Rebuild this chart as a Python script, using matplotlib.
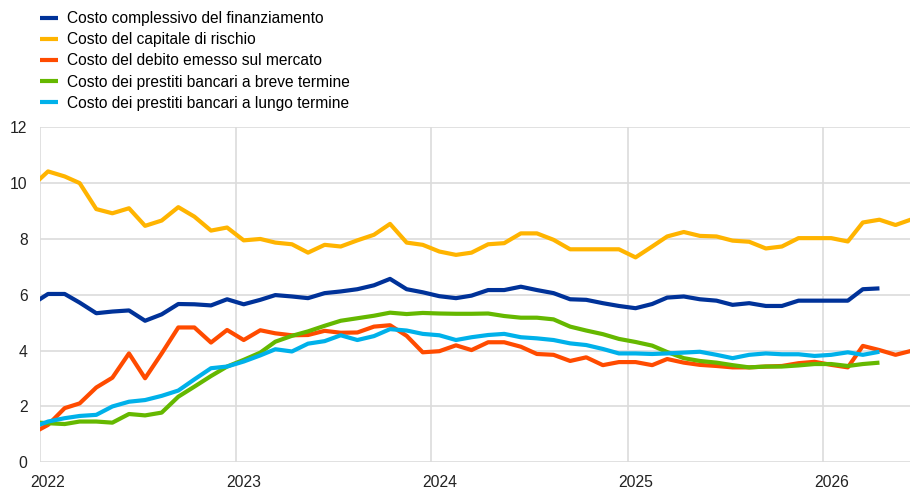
import matplotlib
matplotlib.use("Agg")
import matplotlib.pyplot as plt
import matplotlib.dates as mdates
import pandas as pd

plt.rcParams['font.family'] = ['Liberation Sans', 'DejaVu Sans']

labels = [
    "Costo complessivo del finanziamento",
    "Costo del capitale di rischio",
    "Costo del debito emesso sul mercato",
    "Costo dei prestiti bancari a breve termine",
    "Costo dei prestiti bancari a lungo termine",
]
colors = ["#003299", "#FFB400", "#FF4B00", "#65B800", "#00B1EA"]

# monthly observations, starting Dec 2021
complessivo = [5.65, 6.03, 6.03, 5.72, 5.34, 5.40, 5.44, 5.07, 5.30, 5.67, 5.66, 5.62, 5.84,
               5.66, 5.82, 5.99, 5.94, 5.88, 6.06, 6.12, 6.20, 6.34, 6.57, 6.20, 6.09,
               5.95, 5.88, 5.97, 6.17, 6.17, 6.29, 6.17, 6.06, 5.84, 5.82, 5.70, 5.60,
               5.52, 5.67, 5.90, 5.94, 5.84, 5.79, 5.64, 5.70, 5.60, 5.60, 5.79, 5.79,
               5.79, 5.79, 6.20, 6.23]
capitale = [9.87, 10.42, 10.24, 10.00, 9.07, 8.92, 9.10, 8.47, 8.66, 9.14, 8.80, 8.30, 8.41,
            7.95, 8.00, 7.87, 7.81, 7.51, 7.79, 7.73, 7.95, 8.15, 8.54, 7.87, 7.79,
            7.55, 7.43, 7.51, 7.81, 7.85, 8.20, 8.20, 7.97, 7.63, 7.63, 7.63, 7.63,
            7.34, 7.73, 8.09, 8.25, 8.11, 8.09, 7.94, 7.90, 7.66, 7.73, 8.03, 8.03,
            8.03, 7.91, 8.59, 8.69, 8.50, 8.71]
debito = [1.02, 1.34, 1.94, 2.11, 2.68, 3.03, 3.90, 3.01, 3.90, 4.83, 4.83, 4.29, 4.74,
          4.38, 4.73, 4.62, 4.55, 4.56, 4.71, 4.64, 4.65, 4.86, 4.91, 4.53, 3.94,
          3.98, 4.19, 4.02, 4.30, 4.30, 4.14, 3.88, 3.85, 3.63, 3.76, 3.48, 3.59,
          3.59, 3.48, 3.70, 3.57, 3.49, 3.45, 3.40, 3.40, 3.43, 3.45, 3.55, 3.60,
          3.49, 3.40, 4.17, 4.02, 3.85, 4.00]
breve = [1.44, 1.40, 1.37, 1.46, 1.46, 1.42, 1.73, 1.68, 1.78, 2.35, 2.71, 3.09, 3.43,
         3.67, 3.93, 4.32, 4.53, 4.69, 4.89, 5.07, 5.16, 5.25, 5.36, 5.31, 5.35,
         5.33, 5.32, 5.32, 5.33, 5.24, 5.18, 5.18, 5.12, 4.86, 4.72, 4.59, 4.42,
         4.31, 4.18, 3.95, 3.73, 3.63, 3.57, 3.48, 3.40, 3.43, 3.43, 3.47, 3.52,
         3.52, 3.45, 3.52, 3.57]
lungo = [1.24, 1.46, 1.58, 1.66, 1.70, 2.00, 2.17, 2.23, 2.38, 2.57, 2.97, 3.37, 3.43,
         3.61, 3.83, 4.05, 3.97, 4.25, 4.34, 4.55, 4.38, 4.52, 4.77, 4.72, 4.60,
         4.55, 4.38, 4.48, 4.56, 4.60, 4.48, 4.44, 4.38, 4.26, 4.20, 4.06, 3.90,
         3.90, 3.88, 3.90, 3.93, 3.96, 3.85, 3.73, 3.85, 3.90, 3.87, 3.87, 3.81,
         3.85, 3.94, 3.85, 3.96]
series = [complessivo, capitale, debito, breve, lungo]

year_ticks = ["2022", "2023", "2024", "2025", "2026"]
y_ticks = [0, 2, 4, 6, 8, 10, 12]

fig = plt.figure(figsize=(9.10, 4.88), dpi=100)
ax = fig.add_axes([40/910, 1 - 462.3/488, 1 - 40/910, (462.3 - 127.3)/488])

for vals, lab, col in zip(series, labels, colors):
    dates = pd.date_range("2021-12-01", periods=len(vals), freq="MS") + pd.Timedelta(days=15)
    ax.plot(dates, vals, color=col, lw=3, label=lab, solid_capstyle="butt")

ax.set_ylim(0, 12)
ax.set_yticks(y_ticks)
ax.set_xlim(pd.Timestamp("2022-01-01"), pd.Timestamp("2026-06-12"))
major = [pd.Timestamp(f"{y}-01-01") for y in year_ticks]
minor = [pd.Timestamp(f"{y}-01-16") for y in year_ticks]
ax.set_xticks(major)
ax.set_xticklabels([""] * len(major))
ax.set_xticks(minor, minor=True)
ax.set_xticklabels(year_ticks, minor=True)
ax.tick_params(axis="x", which="both", length=0, pad=9, labelsize=11.3, colors="#222222")
ax.tick_params(axis="y", length=0, pad=9, labelsize=11.3, colors="#222222")
ax.grid(True, which="major", color="#dcdcdc", lw=1.2)
ax.set_axisbelow(True)
for s in ax.spines.values():
    s.set_visible(False)

fig.legend(loc="upper left", bbox_to_anchor=(40/910, 1 - 11/488), frameon=False,
           fontsize=11.2, handlelength=1.15, handletextpad=0.6, labelspacing=0.40,
           borderaxespad=0, borderpad=0)

fig.savefig("out.png", dpi=100)
